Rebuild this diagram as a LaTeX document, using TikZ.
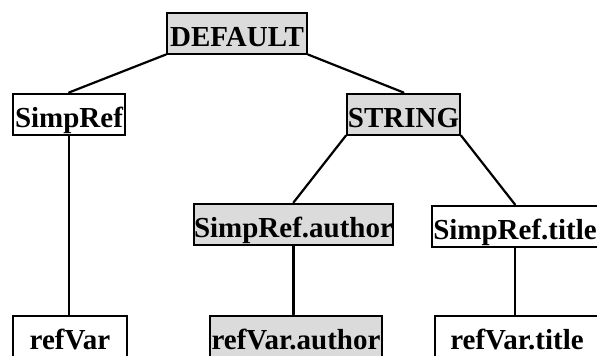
\documentclass[tikz,border=0pt]{standalone}
\usepackage{fontspec}
\setmainfont{Liberation Serif}
\begin{document}
\begin{tikzpicture}[x=1pt,y=-1pt,
  box/.style={draw=black, line width=2pt, rectangle, inner xsep=0pt, inner ysep=0pt,
    text height=33.5pt, text depth=6.5pt, minimum height=41pt,
    font=\fontsize{29}{30}\selectfont\bfseries},
  shaded/.style={box, fill=black!14},
  plain/.style={box, fill=white},
  conn/.style={line width=2.2pt, line cap=round}
]
\useasboundingbox (0,0) rectangle (597,356);
\clip (0,0) rectangle (597,356);

\node[shaded, minimum width=140pt] (def) at (237,33) {DEFAULT};
\node[plain, minimum width=112pt] (sr) at (69,114) {SimpRef};
\node[shaded, minimum width=113pt] (str) at (403.5,114) {STRING};
\node[shaded, minimum width=199pt] (sra) at (293.5,224) {SimpRef.author};
\node[plain, minimum width=166pt] (srt) at (515,226) {SimpRef.title};
\node[plain, minimum width=114pt] (rv) at (70,336) {refVar};
\node[shaded, minimum width=172pt] (rva) at (296,336) {refVar.author};
\node[plain, minimum width=164pt] (rvt) at (517,336) {refVar.title};

\draw[conn] (def.south west) -- (sr.north);
\draw[conn] (def.south east) -- (str.north);
\draw[conn] (str.south west) -- (sra.north);
\draw[conn] (str.south east) -- (srt.north);
\draw[conn] (sr.south) -- (sr.south |- rv.north);
\draw[conn] (sra.south) -- (sra.south |- rva.north);
\draw[conn] (srt.south) -- (srt.south |- rvt.north);
\end{tikzpicture}
\end{document}
